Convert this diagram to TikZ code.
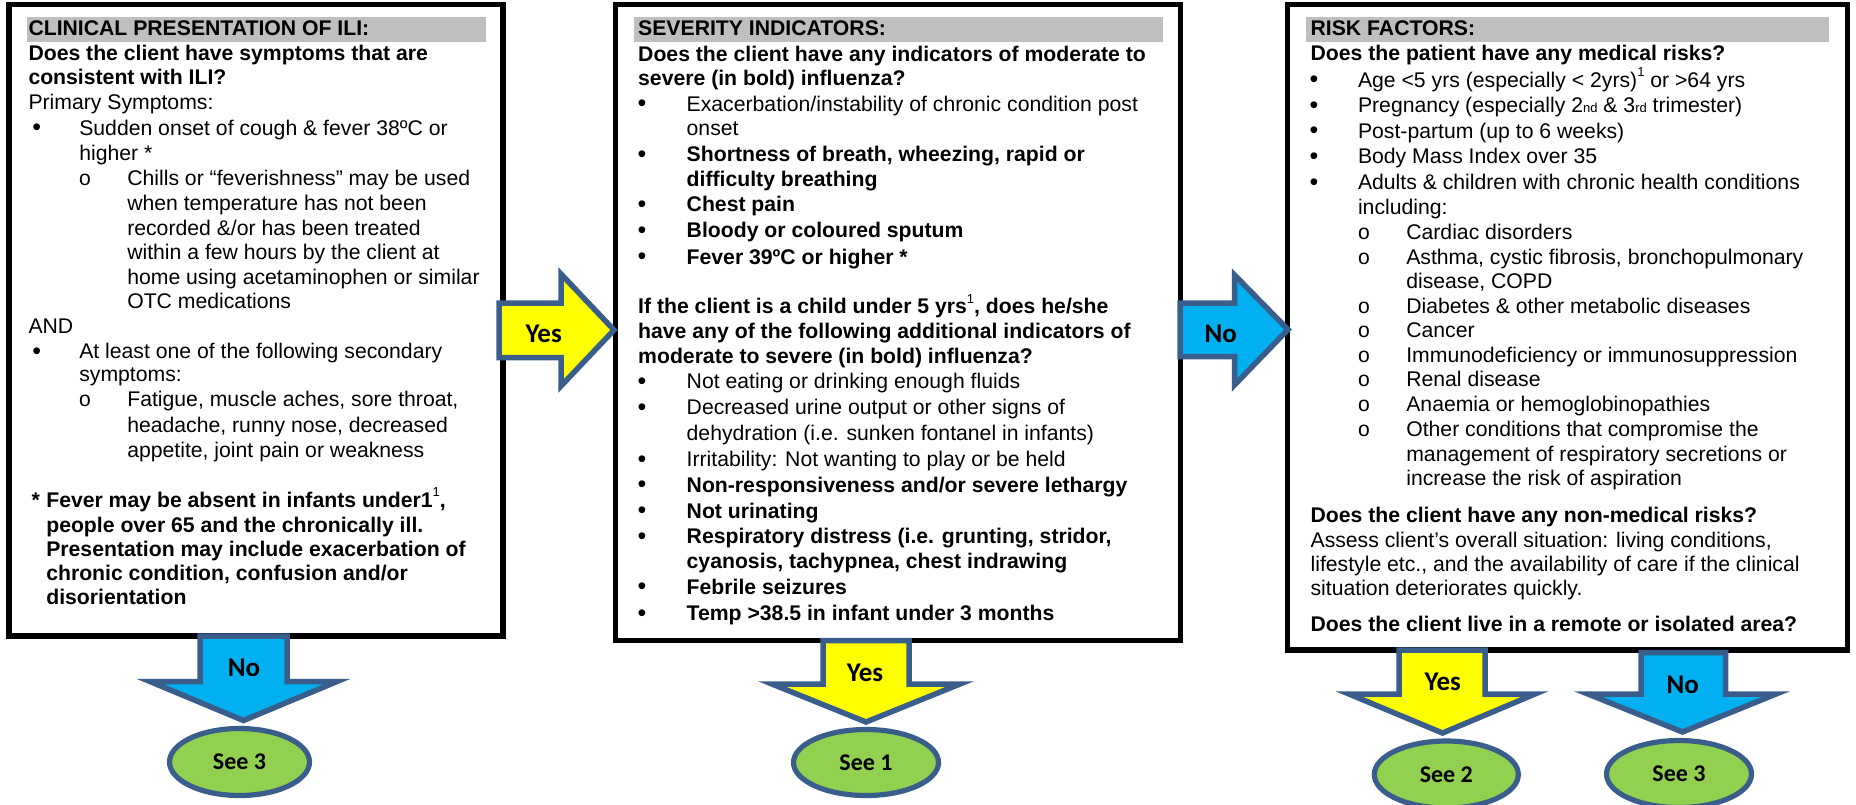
\documentclass[tikz,border=0pt]{standalone}
\usepackage{fontspec}
\setmainfont{Liberation Sans}
\newfontfamily\labfont{Carlito}
\newfontfamily\ringfont{Liberation Mono}
\usetikzlibrary{shapes.geometric}
\definecolor{headgray}{HTML}{BFBFBF}
\definecolor{arrline}{HTML}{3A5E8C}
\definecolor{arryellow}{HTML}{FFFF00}
\definecolor{arrcyan}{HTML}{00B0F0}
\definecolor{ovgreen}{HTML}{92D050}
\newcounter{lnc}
\newcommand\Ln[4]{\stepcounter{lnc}\node[txt,#1] (n\arabic{lnc}) at (#2,#3) {#4};}
\newcommand\supone{\raisebox{0.9ex}{\mdseries\fontsize{6.5}{6.5}\selectfont 1}}
\newcommand\smsfx[1]{{\fontsize{6.5}{6.5}\selectfont #1}}
\newcommand\DnArr[9]{\draw[#1] (#2,#4) -- (#2,#5) -- (#6,#5) -- (#8,#9) -- (#7,#5) -- (#3,#5) -- (#3,#4) -- cycle;}
\newcommand\RtArr[9]{\draw[#1] (#2,#3) -- (#5,#3) -- (#5,#6) -- (#8,#9) -- (#5,#7) -- (#5,#4) -- (#2,#4) -- cycle;}
\tikzset{
  txt/.style={anchor=base west, inner sep=0pt, outer sep=0pt, font=\fontsize{10.6}{12}\selectfont},
  bld/.style={font=\bfseries\fontsize{10.6}{12}\selectfont},
  bul/.style={font=\fontsize{12.5}{12}\selectfont, yshift=-0.4pt},
  ring/.style={font=\ringfont\fontsize{10.6}{12}\selectfont},
  boxline/.style={draw=black, line width=2.75pt, fill=white, line join=miter},
  band/.style={fill=headgray},
  yesarr/.style={fill=arryellow, draw=arrline, line width=2.75pt, line join=miter},
  noarr/.style={fill=arrcyan, draw=arrline, line width=2.75pt, line join=miter},
  seeov/.style={ellipse, draw=arrline, fill=ovgreen, line width=2.6pt, inner sep=0pt,
    font=\labfont\bfseries\fontsize{12}{12}\selectfont},
  arrlab/.style={font=\labfont\bfseries\fontsize{13.5}{13.5}\selectfont, inner sep=0pt}
}
\begin{document}
\begin{tikzpicture}[x=0.5pt,y=-0.5pt]
\useasboundingbox (0,0) rectangle (1856,804);
% boxes
\draw[boxline] (9,4.5) rectangle (503,636);
\draw[boxline] (615.5,4.5) rectangle (1180.5,640.5);
\draw[boxline] (1287.7,4.5) rectangle (1847.7,650);
\fill[band] (27,17.3) rectangle (485.6,41.7);
\fill[band] (633.8,17.3) rectangle (1162.5,41.7);
\fill[band] (1306.4,17.3) rectangle (1829.4,41.7);
% ---------- box 1
\Ln{bld}{28.5}{35.7}{CLINICAL PRESENTATION OF ILI:}
\Ln{bld}{28.5}{60.5}{Does the client have symptoms that are}
\Ln{bld}{28.5}{84.5}{consistent with ILI?}
\Ln{}{28.5}{109}{Primary Symptoms:}
\Ln{bul}{32.5}{135}{•}\Ln{}{79.3}{135}{Sudden onset of cough \& fever 38ºC or}
\Ln{}{79.3}{160}{higher *}
\Ln{ring}{78.5}{185}{o}\Ln{}{127.3}{185}{Chills or “feverishness” may be used}
\Ln{}{127.3}{210}{when temperature has not been}
\Ln{}{127.3}{235}{recorded \&/or has been treated}
\Ln{}{127.3}{259.5}{within a few hours by the client at}
\Ln{}{127.3}{284}{home using acetaminophen or similar}
\Ln{}{127.3}{308}{OTC medications}
\Ln{}{28.5}{333.3}{AND}
\Ln{bul}{32.5}{358.5}{•}\Ln{}{79.3}{358.5}{At least one of the following secondary}
\Ln{}{79.3}{381.5}{symptoms:}
\Ln{ring}{78.5}{406}{o}\Ln{}{127.3}{406}{Fatigue, muscle aches, sore throat,}
\Ln{}{127.3}{432}{headache, runny nose, decreased}
\Ln{}{127.3}{457.5}{appetite, joint pain or weakness}
\Ln{bld}{31.6}{507}{*}\Ln{bld}{46.3}{507}{Fever may be absent in infants under1\supone,}
\Ln{bld}{46.3}{532}{people over 65 and the chronically ill.}
\Ln{bld}{46.3}{556.5}{Presentation may include exacerbation of}
\Ln{bld}{46.3}{580.5}{chronic condition, confusion and/or}
\Ln{bld}{46.3}{604.5}{disorientation}
% ---------- box 2
\Ln{bld}{638.2}{35.7}{SEVERITY INDICATORS:}
\Ln{bld}{638.2}{61}{Does the client have any indicators of moderate to}
\Ln{bld}{638.2}{85}{severe (in bold) influenza?}
\Ln{bul}{637.5}{111}{•}\Ln{}{686.7}{111}{Exacerbation/instability of chronic condition post}
\Ln{}{686.7}{135}{onset}
\Ln{bul}{637.5}{161.5}{•}\Ln{bld}{686.7}{161.5}{Shortness of breath, wheezing, rapid or}
\Ln{bld}{686.7}{186.5}{difficulty breathing}
\Ln{bul}{637.5}{211.5}{•}\Ln{bld}{686.7}{211.5}{Chest pain}
\Ln{bul}{637.5}{237.5}{•}\Ln{bld}{686.7}{237.5}{Bloody or coloured sputum}
\Ln{bul}{637.5}{264}{•}\Ln{bld}{686.7}{264}{Fever 39ºC or higher *}
\Ln{bld}{638.2}{313.5}{If the client is a child under 5 yrs\supone, does he/she}
\Ln{bld}{638.2}{338.5}{have any of the following additional indicators of}
\Ln{bld}{638.2}{363}{moderate to severe (in bold) influenza?}
\Ln{bul}{637.5}{388.5}{•}\Ln{}{686.7}{388.5}{Not eating or drinking enough fluids}
\Ln{bul}{637.5}{414.5}{•}\Ln{}{686.7}{414.5}{Decreased urine output or other signs of}
\Ln{}{686.7}{440}{dehydration (i.e. sunken fontanel in infants)}
\Ln{bul}{637.5}{466.5}{•}\Ln{}{686.7}{466.5}{Irritability: Not wanting to play or be held}
\Ln{bul}{637.5}{492}{•}\Ln{bld}{686.7}{492}{Non-responsiveness and/or severe lethargy}
\Ln{bul}{637.5}{518}{•}\Ln{bld}{686.7}{518}{Not urinating}
\Ln{bul}{637.5}{543.5}{•}\Ln{bld}{686.7}{543.5}{Respiratory distress (i.e. grunting, stridor,}
\Ln{bld}{686.7}{568}{cyanosis, tachypnea, chest indrawing}
\Ln{bul}{637.5}{594}{•}\Ln{bld}{686.7}{594}{Febrile seizures}
\Ln{bul}{637.5}{620.7}{•}\Ln{bld}{686.7}{620.7}{Temp >38.5 in infant under 3 months}
% ---------- box 3
\Ln{bld}{1310.6}{35.7}{RISK FACTORS:}
\Ln{bld}{1310.6}{60.5}{Does the patient have any medical risks?}
\Ln{bul}{1309.5}{87}{•}\Ln{}{1358}{87}{Age <5 yrs (especially < 2yrs)\supone{} or >64 yrs}
\Ln{bul}{1309.5}{112.5}{•}\Ln{}{1358}{112.5}{Pregnancy (especially 2\smsfx{nd} \& 3\smsfx{rd} trimester)}
\Ln{bul}{1309.5}{138}{•}\Ln{}{1358}{138}{Post-partum (up to 6 weeks)}
\Ln{bul}{1309.5}{163.5}{•}\Ln{}{1358}{163.5}{Body Mass Index over 35}
\Ln{bul}{1309.5}{189.5}{•}\Ln{}{1358}{189.5}{Adults \& children with chronic health conditions}
\Ln{}{1358}{214.5}{including:}
\Ln{ring}{1357.5}{239}{o}\Ln{}{1406.3}{239}{Cardiac disorders}
\Ln{ring}{1357.5}{264.5}{o}\Ln{}{1406.3}{264.5}{Asthma, cystic fibrosis, bronchopulmonary}
\Ln{}{1406.3}{288.5}{disease, COPD}
\Ln{ring}{1357.5}{313}{o}\Ln{}{1406.3}{313}{Diabetes \& other metabolic diseases}
\Ln{ring}{1357.5}{337}{o}\Ln{}{1406.3}{337}{Cancer}
\Ln{ring}{1357.5}{362}{o}\Ln{}{1406.3}{362}{Immunodeficiency or immunosuppression}
\Ln{ring}{1357.5}{386}{o}\Ln{}{1406.3}{386}{Renal disease}
\Ln{ring}{1357.5}{411.5}{o}\Ln{}{1406.3}{411.5}{Anaemia or hemoglobinopathies}
\Ln{ring}{1357.5}{436.5}{o}\Ln{}{1406.3}{436.5}{Other conditions that compromise the}
\Ln{}{1406.3}{461}{management of respiratory secretions or}
\Ln{}{1406.3}{485}{increase the risk of aspiration}
\Ln{bld}{1310.6}{522}{Does the client have any non-medical risks?}
\Ln{}{1310.6}{547}{Assess client’s overall situation: living conditions,}
\Ln{}{1310.6}{571}{lifestyle etc., and the availability of care if the clinical}
\Ln{}{1310.6}{595}{situation deteriorates quickly.}
\Ln{bld}{1310.6}{631.7}{Does the client live in a remote or isolated area?}
% ---------- arrows
\RtArr{yesarr}{499}{303}{357.5}{561}{274}{386}{614}{330}
\RtArr{noarr}{1180}{303}{356.7}{1234.5}{275}{385}{1288}{329.5}
\DnArr{noarr}{200}{287}{636}{681.5}{150}{337}{243.5}{720.5}
\DnArr{yesarr}{823}{909}{640.5}{684}{772}{960}{866}{722}
\DnArr{yesarr}{1399}{1485}{650}{694}{1349}{1535}{1442.5}{733}
\DnArr{noarr}{1641}{1725.5}{652.5}{694}{1588}{1776}{1682.5}{732}
\node[arrlab] (ly1) at (543.7,333.7) {Yes};
\node[arrlab] (ln1) at (1220.7,334) {No};
\node[arrlab] (ln2) at (244,668) {No};
\node[arrlab] (ly2) at (865,673) {Yes};
\node[arrlab] (ly3) at (1442.8,682) {Yes};
\node[arrlab] (ln3) at (1682.7,685) {No};
% ---------- ovals
\node[seeov, minimum width=70pt, minimum height=33.5pt] (s3a) at (239.5,762) {See 3};
\node[seeov, minimum width=72.5pt, minimum height=33pt] (s1) at (866,762.5) {See 1};
\node[seeov, minimum width=72pt, minimum height=33.5pt] (s2) at (1446.3,774.5) {See 2};
\node[seeov, minimum width=72.5pt, minimum height=33.5pt] (s3b) at (1679,774) {See 3};
\end{tikzpicture}
\end{document}
